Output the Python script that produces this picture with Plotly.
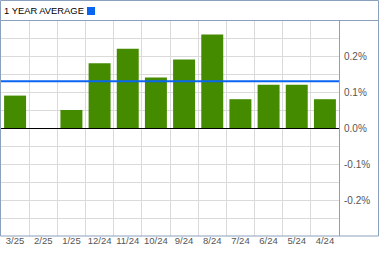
import plotly.graph_objects as go

months = ["3/25", "2/25", "1/25", "12/24", "11/24", "10/24", "9/24", "8/24", "7/24", "6/24", "5/24", "4/24"]
values = [0.09, 0.0, 0.05, 0.18, 0.22, 0.14, 0.19, 0.26, 0.08, 0.12, 0.12, 0.08]
average = 0.13
y_tickvals = [-0.2, -0.1, 0.0, 0.1, 0.2]
y_ticktext = ["-0.2%", "-0.1%", "0.0%", "0.1%", "0.2%"]
y_minorvals = [-0.25, -0.15, -0.05, 0.05, 0.15, 0.25]
title_text = "1 YEAR AVERAGE"

W, H = 379, 255
L, R, T, B = 1, 40, 20, 19
PW, PH = W - L - R, H - T - B

def px_x(p):
    return (p - L) / PW

def px_y(p):
    return (H - B - p) / PH

BORDER = "#8ba0bc"
GRID = "#dadada"

fig = go.Figure()
fig.add_trace(go.Bar(x=months, y=values, marker=dict(color="#458b00", line=dict(width=0)),
                     width=0.78, hoverinfo="skip"))

shapes = [
    dict(type="line", xref="paper", yref="y", x0=0, x1=1, y0=average, y1=average,
         line=dict(color="#0a66f0", width=2)),
    # outer frame
    dict(type="rect", xref="paper", yref="paper", x0=px_x(0.5), x1=px_x(378.5), y0=px_y(236), y1=px_y(0.5),
         line=dict(color=BORDER, width=1), layer="above"),
    dict(type="line", xref="paper", yref="paper", x0=px_x(0.5), x1=px_x(378.5), y0=px_y(20.5), y1=px_y(20.5),
         line=dict(color=BORDER, width=1)),
    dict(type="line", xref="paper", yref="paper", x0=px_x(339.5), x1=px_x(339.5), y0=px_y(236), y1=px_y(20.5),
         line=dict(color=BORDER, width=1)),
    # legend square
    dict(type="rect", xref="paper", yref="paper", x0=px_x(87), x1=px_x(95), y0=px_y(15), y1=px_y(7),
         fillcolor="#0a66f0", line=dict(width=0)),
]

fig.update_layout(
    width=W, height=H,
    margin=dict(l=L, r=R, t=T, b=B, pad=0, autoexpand=False),
    paper_bgcolor="white", plot_bgcolor="white",
    showlegend=False,
    bargap=0.22,
    shapes=shapes,
    font=dict(family="Liberation Sans, Arial, sans-serif", size=10, color="#555555"),
    annotations=[dict(text=title_text, xref="paper", yref="paper", x=px_x(3), y=px_y(10.5),
                      xanchor="left", yanchor="middle", showarrow=False, borderpad=0,
                      font=dict(size=9.4, color="#000000"))],
    xaxis=dict(type="category", tickson="boundaries", showgrid=True, gridcolor=GRID, gridwidth=1,
               ticks="", showline=False, zeroline=False, tickfont=dict(size=9.5, color="#555555"),
               tickangle=0, automargin=False,
               ticklabelstandoff=-3, fixedrange=True),
    yaxis=dict(side="right", range=[-0.3, 0.3], tickmode="array", tickvals=y_tickvals, ticktext=y_ticktext,
               showgrid=True, gridcolor=GRID, gridwidth=1, zeroline=True, zerolinecolor="#000000",
               zerolinewidth=1, ticks="", showline=False, ticklabelstandoff=4, automargin=False,
               tickfont=dict(size=10, color="#555555"),
               minor=dict(tickmode="array", tickvals=y_minorvals, showgrid=True, gridcolor=GRID, gridwidth=1),
               fixedrange=True),
)

fig.write_html("out.html", config={"displayModeBar": False})
